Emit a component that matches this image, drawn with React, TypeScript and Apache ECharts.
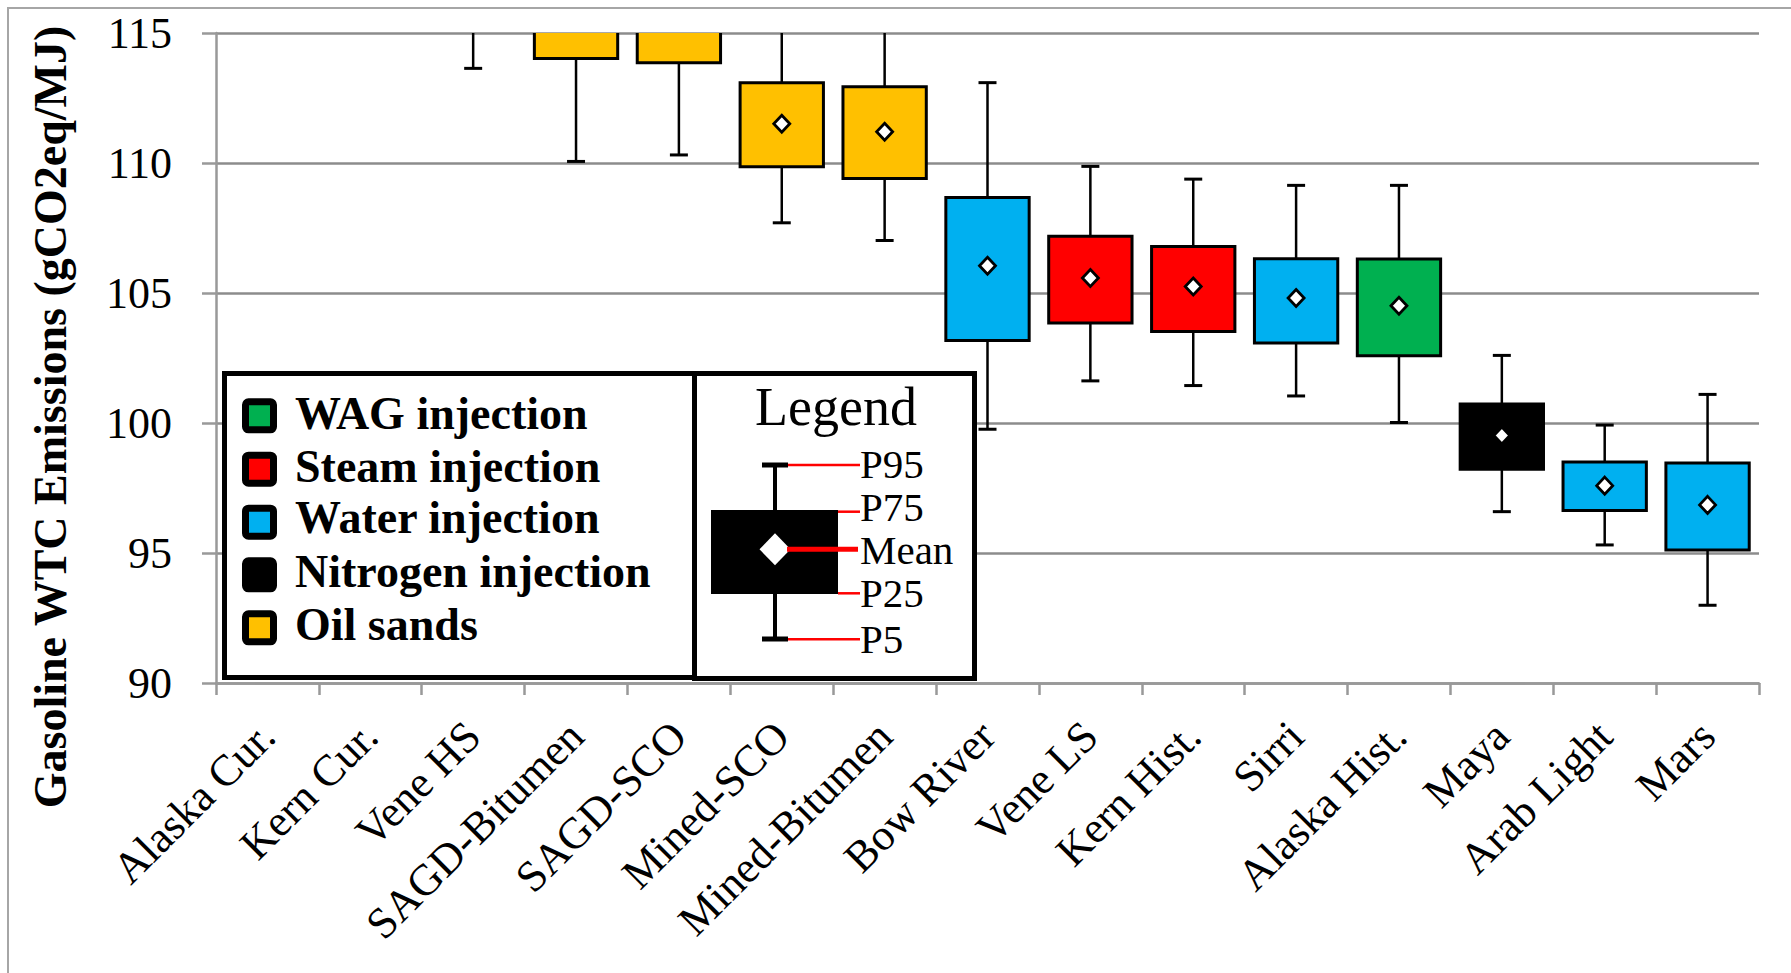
import React, { useEffect, useRef } from "react";
import * as echarts from "echarts";

const categories = [
  "Alaska Cur.", "Kern Cur.", "Vene HS", "SAGD-Bitumen", "SAGD-SCO", "Mined-SCO",
  "Mined-Bitumen", "Bow River", "Vene LS", "Kern Hist.", "Sirri", "Alaska Hist.",
  "Maya", "Arab Light", "Mars",
];
const recovery = [
  "WAG injection", "Steam injection", "Steam injection", "Oil sands", "Oil sands", "Oil sands",
  "Oil sands", "Water injection", "Steam injection", "Steam injection", "Water injection", "WAG injection",
  "Nitrogen injection", "Water injection", "Water injection",
];
const p5 = [117.5, 123.0, 113.64, 110.06, 110.31, 107.7, 107.02, 99.76, 101.62, 101.44, 101.04, 100.02, 96.59, 95.31, 92.99];
const p25 = [121.0, 128.0, 116.5, 114.02, 113.86, 109.86, 109.4, 103.17, 103.85, 103.52, 103.08, 102.59, 98.22, 96.63, 95.12];
const means = [124.0, 131.0, 118.5, 116.5, 116.0, 111.51, 111.2, 106.05, 105.58, 105.25, 104.81, 104.51, 99.52, 97.59, 96.85];
const p75 = [127.0, 134.0, 120.5, 119.0, 118.0, 113.09, 112.93, 108.67, 107.18, 106.79, 106.32, 106.31, 100.73, 98.5, 98.46];
const p95 = [132.0, 140.0, 124.0, 123.0, 122.0, 117.0, 117.5, 113.09, 109.87, 109.38, 109.14, 109.14, 102.6, 99.92, 101.1];
const yTicks = [90, 95, 100, 105, 110, 115];

const legendItems = ["WAG injection", "Steam injection", "Water injection", "Nitrogen injection", "Oil sands"];
const legendColors: Record<string, string> = {
  "WAG injection": "#00B050",
  "Steam injection": "#FF0000",
  "Water injection": "#00B0F0",
  "Nitrogen injection": "#000000",
  "Oil sands": "#FFC000",
};
const keyLabels = ["P95", "P75", "Mean", "P25", "P5"];

const FONT = "'Liberation Serif', 'Times New Roman', serif";

export default function App() {
  const ref = useRef<HTMLDivElement>(null);
  useEffect(() => {
    document.body.style.margin = "0";
    const chart = echarts.init(ref.current!, null, { renderer: "svg" });
    const data = categories.map((c, i) => [i, p5[i], p25[i], means[i], p75[i], p95[i]]);

    const renderItem = (params: any, api: any) => {
      const i = api.value(0);
      const color = legendColors[recovery[i]];
      const [cx, y5] = api.coord([i, api.value(1)]);
      const y25 = api.coord([i, api.value(2)])[1];
      const ym = api.coord([i, api.value(3)])[1];
      const y75 = api.coord([i, api.value(4)])[1];
      const y95 = api.coord([i, api.value(5)])[1];
      const bw = api.size([1, 0])[0] * 0.81;
      const cap = 9;
      return {
        type: "group",
        children: [
          { type: "line", shape: { x1: cx, y1: y5, x2: cx, y2: y95 }, style: { stroke: "#000", lineWidth: 2.5 } },
          { type: "line", shape: { x1: cx - cap, y1: y5, x2: cx + cap, y2: y5 }, style: { stroke: "#000", lineWidth: 3 } },
          { type: "line", shape: { x1: cx - cap, y1: y95, x2: cx + cap, y2: y95 }, style: { stroke: "#000", lineWidth: 3 } },
          {
            type: "rect",
            shape: { x: cx - bw / 2, y: y75, width: bw, height: y25 - y75 },
            style: { fill: color, stroke: "#000", lineWidth: 3 },
          },
          {
            type: "polygon",
            shape: { points: [[cx, ym - 8.5], [cx + 8, ym], [cx, ym + 8.5], [cx - 8, ym]] },
            style: { fill: "#fff", stroke: "#000", lineWidth: 2.8 },
          },
        ],
      };
    };

    const graphic: any[] = [];
    graphic.push({
      type: "rect", z: -10, silent: true,
      shape: { x: 8, y: 8, width: 1800, height: 1000 },
      style: { fill: "none", stroke: "#A6A6A6", lineWidth: 2 },
    });
    graphic.push({
      type: "text", x: 50, y: 417, rotation: Math.PI / 2,
      style: {
        text: "Gasoline WTC Emissions (gCO2eq/MJ)", font: `bold 46px ${FONT}`,
        fill: "#000", align: "center", verticalAlign: "middle",
      },
    });
    // legend boxes
    graphic.push({
      type: "rect", z: 50,
      shape: { x: 224.5, y: 373.5, width: 470, height: 304 },
      style: { fill: "#fff", stroke: "#000", lineWidth: 5 },
    });
    graphic.push({
      type: "rect", z: 50,
      shape: { x: 694.5, y: 373.5, width: 280, height: 305 },
      style: { fill: "#fff", stroke: "#000", lineWidth: 5 },
    });
    const rowCenters = [415.8, 469.2, 522.2, 574.8, 627.8];
    const textYs = [413, 466.2, 517.8, 571.2, 624.5];
    legendItems.forEach((name, k) => {
      graphic.push({
        type: "rect", z: 51,
        shape: { x: 245.5, y: rowCenters[k] - 14, width: 28, height: 28, r: 3 },
        style: { fill: legendColors[name], stroke: "#000", lineWidth: 7 },
      });
      graphic.push({
        type: "text", z: 51, x: 295, y: textYs[k],
        style: { text: name, font: `bold 46px ${FONT}`, fill: "#000", align: "left", verticalAlign: "middle", lineHeight: 44 },
      });
    });
    // key box
    graphic.push({
      type: "text", z: 51, x: 836, y: 407,
      style: { text: "Legend", font: `54px ${FONT}`, fill: "#000", align: "center", verticalAlign: "middle" },
    });
    const line = (x1: number, y1: number, x2: number, y2: number, stroke: string, w: number) => ({
      type: "line", z: 51, shape: { x1, y1, x2, y2 }, style: { stroke, lineWidth: w },
    });
    graphic.push(line(775, 465, 775, 639, "#000", 4));
    graphic.push(line(762, 465, 788, 465, "#000", 5));
    graphic.push(line(762, 639, 788, 639, "#000", 5));
    graphic.push({
      type: "rect", z: 52, shape: { x: 711, y: 510, width: 127, height: 84 }, style: { fill: "#000" },
    });
    graphic.push({
      type: "polygon", z: 53,
      shape: { points: [[775, 533.3], [790.5, 549.3], [775, 565.3], [759.5, 549.3]] },
      style: { fill: "#fff" },
    });
    graphic.push(line(788, 465, 860, 465, "#FF0000", 2.5));
    graphic.push(line(838, 511.7, 860, 511.7, "#FF0000", 2.5));
    const meanLine = line(787, 549.3, 858, 549.3, "#FF0000", 5);
    meanLine.z = 54;
    graphic.push(meanLine);
    graphic.push(line(838, 593.3, 860, 593.3, "#FF0000", 2.5));
    graphic.push(line(788, 639.3, 860, 639.3, "#FF0000", 2.5));
    const keyYs = [464, 507, 550, 593, 638.5];
    keyLabels.forEach((t, k) => {
      graphic.push({
        type: "text", z: 55, x: 860, y: keyYs[k],
        style: { text: t, font: `41px ${FONT}`, fill: "#000", align: "left", verticalAlign: "middle", lineHeight: 32 },
      });
    });

    chart.setOption({
      animation: false,
      backgroundColor: "#fff",
      grid: { left: 216, right: 32, top: 33, bottom: 290 },
      xAxis: {
        type: "category",
        data: categories,
        boundaryGap: true,
        axisLine: { lineStyle: { color: "#999999", width: 2.5 } },
        axisTick: { show: true, length: 12, interval: 0, lineStyle: { color: "#999999", width: 2.5 } },
        axisLabel: { rotate: 45, interval: 0, fontSize: 44, fontFamily: FONT, color: "#000", margin: 46 },
        splitLine: { show: false },
      },
      yAxis: {
        type: "value",
        min: yTicks[0],
        max: yTicks[yTicks.length - 1],
        interval: 5,
        axisLine: { show: true, lineStyle: { color: "#999999", width: 2.5 } },
        axisTick: { show: true, length: 14, lineStyle: { color: "#999999", width: 2.5 } },
        axisLabel: { fontSize: 44, fontFamily: FONT, color: "#000", margin: 44 },
        splitLine: { show: true, lineStyle: { color: "#8C8C8C", width: 2.5 } },
      },
      series: [
        {
          type: "custom",
          renderItem,
          data,
          encode: { x: 0, y: [1, 2, 3, 4, 5] },
          clip: true,
          z: 3,
        },
      ],
      graphic,
    });
    return () => chart.dispose();
  }, []);
  return <div ref={ref} style={{ width: 1791, height: 973, position: "absolute", left: 0, top: 0 }} />;
}
